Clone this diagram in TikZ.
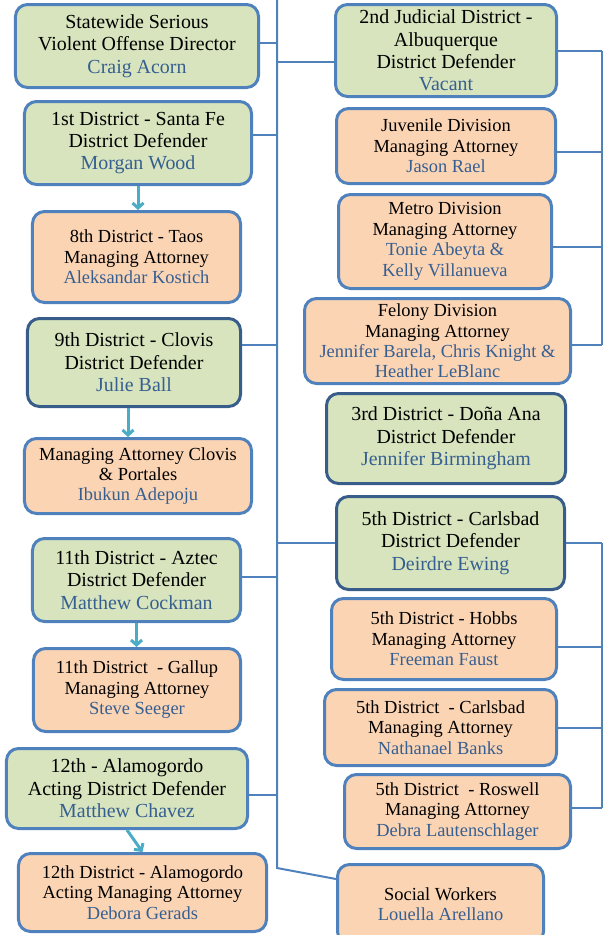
\documentclass[tikz,border=0pt]{standalone}
\usepackage{fontspec}
\setmainfont{Liberation Serif}
\usetikzlibrary{arrows.meta}

\definecolor{boxblue}{HTML}{4F81BD}
\definecolor{boxdark}{HTML}{385D8A}
\definecolor{nameblue}{HTML}{365F91}
\definecolor{defgreen}{HTML}{D7E4BD}
\definecolor{attorange}{HTML}{FBD4B4}
\definecolor{arrteal}{HTML}{4BACC6}

\newcommand{\who}[1]{\textcolor{nameblue}{#1}}

\begin{document}
\begin{tikzpicture}[x=1bp,y=-1bp,
  office/.style={draw=boxblue, line width=3bp, rounded corners=12bp, align=center, inner sep=0pt},
  defender/.style={office, fill=defgreen, font=\fontsize{20}{22.5}\selectfont},
  attorney/.style={office, fill=attorange, font=\fontsize{18.5}{20.5}\selectfont},
  dark/.style={draw=boxdark},
  wh/.style 2 args={minimum width=#1bp, minimum height=#2bp},
  link/.style={draw=boxblue, line width=2bp},
  down/.style={draw=arrteal, line width=3bp, -{Straight Barb[length=5bp,width=11bp]}}]

\useasboundingbox (0,0) rectangle (604,935);

\coordinate (trunk) at (277,0);
\coordinate (trunkend) at (277,868);
\coordinate (rail) at (602,0);

%left column
\node[defender, wh={243}{83}] (swvo) at (137,46) {Statewide Serious\\Violent Offense Director\\\who{Craig Acorn}};
\node[defender, wh={227}{83}] (first) at (138,143) {1st District - Santa Fe\\District Defender\\\who{Morgan Wood}};
\node[attorney, wh={208}{91}] (eighth) at (136.5,257) {8th District - Taos\\Managing Attorney\\\who{Aleksandar Kostich}};
\node[defender, dark, wh={213}{88}] (ninth) at (134,362.5) {9th District - Clovis\\District Defender\\\who{Julie Ball}};
\node[attorney, wh={227}{75}] (clovis) at (138,476) {Managing Attorney Clovis\\\& Portales\\\who{Ibukun Adepoju}};
\node[defender, wh={208}{83}] (aztec) at (136.5,580) {11th District - Aztec\\District Defender\\\who{Matthew Cockman}};
\node[attorney, wh={207}{83}] (gallup) at (137,690) {11th District\ \ - Gallup\\Managing Attorney\\\who{Steve Seeger}};
\node[defender, wh={241}{80}] (alamo) at (127,788.5) {12th - Alamogordo\\Acting District Defender\\\who{Matthew Chavez}};
\node[attorney, wh={248}{78}] (alamoma) at (142.5,892.5) {12th District - Alamogordo\\Acting Managing Attorney\\\who{Debora Gerads}};

%right column
\node[defender, wh={221}{92}] (second) at (446,50.5) {2nd Judicial District -\\Albuquerque\\District Defender\\\who{Vacant}};
\node[attorney, wh={219}{75}] (juv) at (446,146) {Juvenile Division\\Managing Attorney\\\who{Jason Rael}};
\node[attorney, wh={213}{94}] (metro) at (445,241.5) {Metro Division\\Managing Attorney\\\who{Tonie Abeyta \&}\\\who{Kelly Villanueva}};
\node[attorney, wh={266}{85}] (felony) at (437.5,341) {Felony Division\\Managing Attorney\\\who{Jennifer Barela, Chris Knight \&}\\\who{Heather LeBlanc}};
\node[defender, dark, wh={239}{90}] (third) at (446,438.5) {3rd District - Doña Ana\\District Defender\\\who{Jennifer Birmingham}};
\node[defender, dark, wh={228}{93}] (fifth) at (450.5,543) {5th District - Carlsbad\\District Defender\\\who{Deirdre Ewing}};
\node[attorney, wh={225}{81}] (hobbs) at (444,639) {5th District - Hobbs\\Managing Attorney\\\who{Freeman Faust}};
\node[attorney, wh={232}{76}] (carlsbad) at (440.5,727.5) {5th District\ \ - Carlsbad\\Managing Attorney\\\who{Nathanael Banks}};
\node[attorney, wh={226}{74}] (roswell) at (457.5,811.5) {5th District\ \ - Roswell\\Managing Attorney\\\who{Debra Lautenschlager}};
\node[attorney, wh={206}{79}] (social) at (440.5,904) {Social Workers\\\who{Louella Arellano}};

%trunk and branches
\draw[link] (trunk) -- (trunkend) -- ([yshift=25bp]social.west);
\foreach \n/\s in {swvo/3, first/8, ninth/17.5, aztec/3, alamo/-6.5}{%
   \draw[link] ([yshift=\s bp]\n.east) -- ([yshift=\s bp]\n.east -| trunk);
}
\draw[link] ([yshift=-11.5bp]second.west -| trunk) -- ([yshift=-11.5bp]second.west);
\draw[link] (fifth.west -| trunk) -- (fifth.west);

%brackets on the right
\foreach \n/\s in {second/0, juv/-6, metro/-5.5, felony/-4, fifth/0, hobbs/-8, carlsbad/0, roswell/3.5}{%
   \draw[link] ([yshift=\s bp]\n.east) -- ([yshift=\s bp]\n.east -| rail);
}
\draw[link] (second.east -| rail) -- ([yshift=-4bp]felony.east -| rail);
\draw[link] (fifth.east -| rail) -- ([yshift=3.5bp]roswell.east -| rail);

%arrows
\draw[down] (first.south) -- (first.south |- eighth.north);
\draw[down] ([xshift=-6bp]ninth.south) -- ([xshift=-6bp]ninth.south |- clovis.north);
\draw[down] (aztec.south) -- (aztec.south |- gallup.north);
\draw[down] (alamo.south) -- (alamoma.north);

\end{tikzpicture}
\end{document}
